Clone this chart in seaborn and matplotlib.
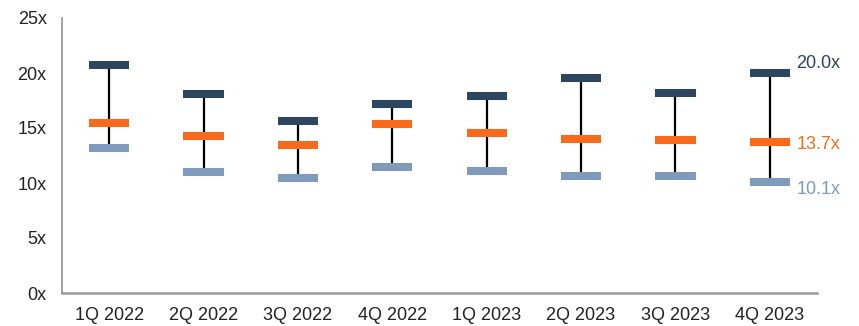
import matplotlib
matplotlib.use("Agg")
import matplotlib.pyplot as plt
import seaborn as sns
import pandas as pd

# Quarterly valuation range (multiples)
quarters = ["1Q 2022", "2Q 2022", "3Q 2022", "4Q 2022",
            "1Q 2023", "2Q 2023", "3Q 2023", "4Q 2023"]
high = [20.7, 18.1, 15.6, 17.2, 17.95, 19.55, 18.2, 20.0]
mid = [15.5, 14.3, 13.45, 15.4, 14.55, 14.0, 13.9, 13.7]
low = [13.2, 11.0, 10.45, 11.5, 11.1, 10.6, 10.6, 10.1]
y_ticks = [0, 5, 10, 15, 20, 25]

c_high = "#2D4660"
c_mid = "#F96B1C"
c_low = "#7F9ABA"

sns.set_theme(style="white")
plt.rcParams["font.family"] = ["Liberation Sans", "DejaVu Sans"]

df = pd.DataFrame({
    "quarter": quarters * 3,
    "value": high + mid + low,
    "series": ["High"] * len(quarters) + ["Mid"] * len(quarters) + ["Low"] * len(quarters),
})

fig = plt.figure(figsize=(8.59, 3.26), dpi=100)
ax = fig.add_axes([62 / 859, 33 / 326, 755 / 859, 275 / 326])

# whiskers from high to low
pos = list(range(len(quarters)))
ax.vlines(pos, low, high, color="black", linewidth=1.6, zorder=1)

# horizontal bars for high / mid / low
sns.scatterplot(data=df, x="quarter", y="value", hue="series",
                palette={"High": c_high, "Mid": c_mid, "Low": c_low},
                marker="_", s=29 ** 2, linewidth=5.8, legend=False,
                ax=ax, zorder=3)

ax.set_xlim(-0.5, len(quarters) - 0.5)
ax.set_ylim(0, 25)
ax.set_yticks(y_ticks)
ax.set_yticklabels([f"{v}x" for v in y_ticks])
ax.set_xlabel("")
ax.set_ylabel("")

for side in ["top", "right"]:
    ax.spines[side].set_visible(False)
ax.spines["left"].set_color("#9a9a9a")
ax.spines["left"].set_linewidth(1.3)
ax.spines["bottom"].set_color("#9a9a9a")
ax.spines["bottom"].set_linewidth(1.8)
ax.tick_params(axis="both", length=0, labelsize=13, colors="#222222")
ax.tick_params(axis="y", pad=11)
ax.tick_params(axis="x", pad=10)

# labels for the latest quarter
last = len(quarters) - 1
ax.annotate(f"{high[-1]:.1f}x", (last, high[-1]), xytext=(19, 7),
            textcoords="offset points", color=c_high, fontsize=13,
            va="center", ha="left")
ax.annotate(f"{mid[-1]:.1f}x", (last, mid[-1]), xytext=(19, -1.5),
            textcoords="offset points", color=c_mid, fontsize=13,
            va="center", ha="left")
ax.annotate(f"{low[-1]:.1f}x", (last, low[-1]), xytext=(19, -5.5),
            textcoords="offset points", color=c_low, fontsize=13,
            va="center", ha="left")

fig.savefig("out.png", dpi=100)
